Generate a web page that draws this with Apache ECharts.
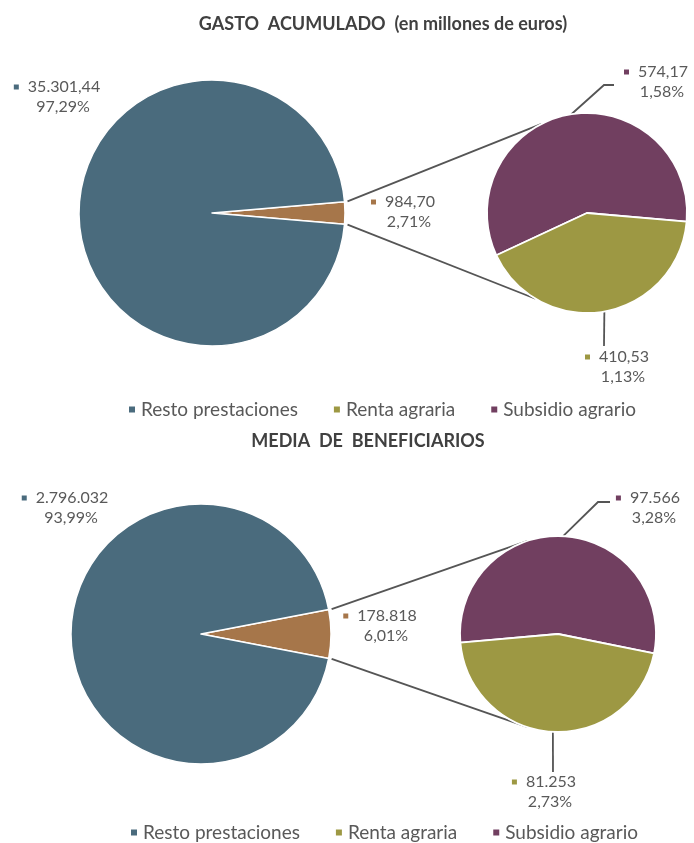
<!DOCTYPE html>
<html>
<head>
<meta charset="utf-8">
<script src="https://cdn.jsdelivr.net/npm/echarts@6/dist/echarts.min.js"></script>
<style>
html,body{margin:0;padding:0;background:#fff;}
#chart{width:694px;height:843px;}
</style>
</head>
<body>
<div id="chart"></div>
<script>
// ---------- DATA ----------
const categories = ['Resto prestaciones', 'Renta agraria', 'Subsidio agrario'];
const groupName = 'Renta agraria + Subsidio agrario';
const chartTitles = ['GASTO  ACUMULADO  (en millones de euros)', 'MEDIA  DE  BENEFICIARIOS'];
// [Resto prestaciones, Renta agraria, Subsidio agrario]
const gastoValues = [35301.44, 410.53, 574.17];
const gastoGroup = 984.70;        // Renta + Subsidio, as labelled
const benefValues = [2796032, 81253, 97566];
const benefGroup = 178818;        // Renta + Subsidio, as labelled
const valueDecimals = [2, 0];

// ---------- STYLE / LAYOUT ----------
const COLORS = { 'Resto prestaciones': '#4A6B7D', 'Renta agraria': '#9D9843', 'Subsidio agrario': '#713F60' };
COLORS[groupName] = '#A6764A';
const TXT = '#595959';
const FONT = 'Lato';
const LABEL_SIZE = 16;

const layouts = [
  { big: { c: [212, 213], r: 133 }, small: { c: [587, 213], r: 100 }, connAngles: [117, 239], smallStart: 205,
    labels: { big: { 'Resto prestaciones': [57, 87], [groupName]: [403, 202] },
              small: { 'Subsidio agrario': [656, 72], 'Renta agraria': [617, 357] } },
    leaders: { 'Subsidio agrario': { a: 99, knee: [604, 85], end: [614, 85] },
               'Renta agraria': { a: -80, knee: [604, 346], end: [604, 346] } },
    titleX: 383, titleY: 24, legendX: 127, legendY: 410 },
  { big: { c: [201, 634], r: 130 }, small: { c: [558, 634], r: 98 }, connAngles: [108, 252], smallStart: 185,
    labels: { big: { 'Resto prestaciones': [65, 498], [groupName]: [380, 616] },
              small: { 'Subsidio agrario': [648, 498], 'Renta agraria': [544, 782] } },
    leaders: { 'Subsidio agrario': { a: 87, knee: [598, 502], end: [610, 502] },
               'Renta agraria': { a: -93, knee: [553, 772], end: [553, 772] } },
    titleX: 368, titleY: 441, legendX: 129, legendY: 833 }
];

function fmtNum(v, dec) {
  const parts = v.toFixed(dec).split('.');
  parts[0] = parts[0].replace(/\B(?=(\d{3})+(?!\d))/g, '.');
  return parts.join(',');
}
function fmtPct(p) { return p.toFixed(2).replace('.', ',') + '%'; }

const rich = {
  v: { color: TXT, fontFamily: FONT, fontSize: LABEL_SIZE, lineHeight: 20, padding: [0, 0, 0, 9] },
  p: { color: TXT, fontFamily: FONT, fontSize: LABEL_SIZE, lineHeight: 20, padding: [0, 0, 0, 12] }
};
const markKey = {};
Object.keys(COLORS).forEach((k, i) => {
  markKey[k] = 'm' + i;
  rich['m' + i] = { width: 5, height: 5, backgroundColor: COLORS[k] };
});

const series = [];
const graphics = [];
const titles = [];
const legends = [];

[[gastoValues, gastoGroup], [benefValues, benefGroup]].forEach(([vals, group], ci) => {
  const L = layouts[ci];
  const dec = valueDecimals[ci];
  const total = vals[0] + group;
  const halfAngle = 180 * group / total;
  const labelFmt = (p) => {
    const pct = fmtPct(100 * p.value / total);
    return '{' + markKey[p.name] + '|}{v|' + fmtNum(p.value, dec) + '}\n{p|' + pct + '}';
  };
  const bigData = [
    { name: groupName, value: group, itemStyle: { color: COLORS[groupName] } },
    { name: categories[0], value: vals[0], itemStyle: { color: COLORS[categories[0]] } }
  ];
  series.push({
    type: 'pie', center: L.big.c, radius: L.big.r, startAngle: halfAngle, clockwise: true,
    silent: true, animation: false,
    itemStyle: { borderColor: '#fff', borderWidth: 1.5 },
    label: { show: true, formatter: labelFmt, rich: rich, align: 'center', overflow: 'none' },
    labelLine: { show: false },
    labelLayout: (params) => {
      const pos = L.labels.big[bigData[params.dataIndex].name];
      return { x: pos[0], y: pos[1] - 10, align: 'center', verticalAlign: 'top' };
    },
    data: bigData
  });
  const smallData = [
    { name: categories[2], value: vals[2], itemStyle: { color: COLORS[categories[2]] } },
    { name: categories[1], value: vals[1], itemStyle: { color: COLORS[categories[1]] } }
  ];
  series.push({
    type: 'pie', center: L.small.c, radius: L.small.r, startAngle: L.smallStart, clockwise: true,
    silent: true, animation: false,
    itemStyle: { borderColor: '#fff', borderWidth: 1.8 },
    label: { show: true, formatter: labelFmt, rich: rich, align: 'center', overflow: 'none' },
    labelLine: { show: true, lineStyle: { color: '#555', width: 1.8 } },
    labelLayout: (params) => {
      const name = smallData[params.dataIndex].name;
      const pos = L.labels.small[name];
      const ld = L.leaders[name];
      const a = ld.a * Math.PI / 180;
      const start = [L.small.c[0] + L.small.r * Math.cos(a), L.small.c[1] - L.small.r * Math.sin(a)];
      return { x: pos[0], y: pos[1] - 10, align: 'center', verticalAlign: 'top',
               labelLinePoints: [start, ld.knee, ld.end] };
    },
    data: smallData
  });
  // connector lines from wedge corners to small pie
  const h = halfAngle * Math.PI / 180;
  const corners = [
    [L.big.c[0] + (L.big.r + 3) * Math.cos(h), L.big.c[1] - (L.big.r + 3) * Math.sin(h)],
    [L.big.c[0] + (L.big.r + 3) * Math.cos(h), L.big.c[1] + (L.big.r + 3) * Math.sin(h)]
  ];
  L.connAngles.forEach((deg, k) => {
    const a = deg * Math.PI / 180;
    const end = [L.small.c[0] + L.small.r * Math.cos(a), L.small.c[1] - L.small.r * Math.sin(a)];
    graphics.push({ type: 'line', silent: true, z: 0,
      shape: { x1: corners[k][0], y1: corners[k][1], x2: end[0], y2: end[1] },
      style: { stroke: '#555', lineWidth: 1.8 } });
  });
  titles.push({ text: chartTitles[ci], left: L.titleX, top: L.titleY - 9, textAlign: 'center', padding: 0,
    textStyle: { fontFamily: FONT, fontSize: 18, fontWeight: 'bold', color: '#404040' } });
  legends.push({ data: categories, left: L.legendX, top: L.legendY - 10, icon: 'rect', itemWidth: 8, itemHeight: 8,
    itemGap: 34, selectedMode: false, padding: 0,
    textStyle: { fontFamily: FONT, fontSize: 19, color: TXT } });
});

const chart = echarts.init(document.getElementById('chart'), null, { renderer: 'canvas' });
chart.setOption({
  backgroundColor: '#fff',
  animation: false,
  title: titles,
  legend: legends,
  series: series,
  graphic: graphics
});
</script>
</body>
</html>
